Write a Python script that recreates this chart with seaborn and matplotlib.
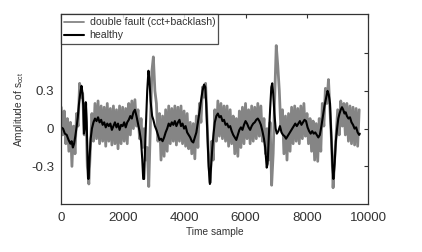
import numpy as np
import pandas as pd
import matplotlib
matplotlib.use("Agg")
import matplotlib.pyplot as plt
import seaborn as sns

# ---------------- data ----------------
# healthy signal: (sample, amplitude)
healthy_t = [0, 60, 120, 180, 240, 300, 340, 380, 420, 460, 500, 540, 580, 620, 660, 690, 720, 740, 770, 800,
             830, 860, 885, 920, 960, 1000, 1050, 1100, 1150, 1200, 1250, 1300, 1350, 1400, 1450, 1500, 1550, 1600,
             1650, 1700, 1750, 1800, 1850, 1900, 1950, 2000, 2050, 2100, 2150, 2200, 2250, 2300, 2350, 2400, 2450,
             2500, 2550, 2600, 2640, 2670, 2700, 2730, 2760, 2800, 2840, 2870, 2910, 2960, 3000, 3050, 3100, 3150,
             3200, 3250, 3300, 3350, 3400, 3450, 3500, 3550, 3600, 3650, 3700, 3750, 3800, 3850, 3900, 3950, 4000,
             4050, 4100, 4150, 4200, 4250, 4300, 4350, 4400, 4450, 4500, 4550, 4600, 4650, 4690, 4720, 4760, 4800,
             4840, 4880, 4920, 4960, 5000, 5050, 5100, 5150, 5200, 5250, 5300, 5350, 5400, 5450, 5500, 5550, 5600,
             5650, 5700, 5750, 5800, 5850, 5900, 5950, 6000, 6050, 6100, 6150, 6200, 6250, 6300, 6350, 6400, 6450,
             6500, 6550, 6600, 6640, 6690, 6720, 6760, 6800, 6840, 6870, 6900, 6940, 6980, 7020, 7070, 7120, 7170,
             7220, 7270, 7320, 7370, 7420, 7470, 7520, 7570, 7620, 7670, 7720, 7770, 7820, 7870, 7920, 7970, 8020,
             8070, 8120, 8170, 8220, 8270, 8320, 8370, 8420, 8470, 8520, 8570, 8620, 8670, 8710, 8750, 8790, 8830,
             8860, 8900, 8940, 8980, 9020, 9060, 9100, 9140, 9180, 9220, 9260, 9300, 9350, 9400, 9450, 9500, 9550,
             9600, 9650, 9700, 9720]
healthy_v = [0.01, 0.00, -0.04, -0.05, -0.09, -0.12, -0.10, -0.15, -0.12, -0.06, 0.01, 0.09, 0.20, 0.28, 0.34,
             0.29, 0.18, -0.04, 0.00, 0.21, 0.05, -0.25, -0.40, -0.25, -0.08, 0.00, 0.05, 0.08, 0.06, 0.09, 0.05,
             0.07, 0.03, 0.05, 0.01, 0.04, 0.02, 0.04, -0.01, 0.02, 0.05, 0.01, 0.04, -0.01, 0.03, 0.02, 0.05, 0.01,
             0.05, 0.07, 0.10, 0.08, 0.13, 0.15, 0.10, 0.04, -0.02, -0.10, -0.25, -0.40, -0.40, -0.15, 0.05, 0.30,
             0.46, 0.40, 0.22, 0.10, 0.07, 0.02, -0.01, -0.05, -0.09, -0.08, -0.10, -0.07, -0.03, 0.00, 0.04, 0.02,
             0.05, 0.03, 0.06, 0.02, 0.05, 0.07, 0.02, 0.04, 0.00, 0.02, -0.03, -0.05, -0.07, -0.10, -0.11, -0.07,
             -0.03, 0.05, 0.13, 0.22, 0.30, 0.35, 0.33, 0.20, -0.05, -0.30, -0.44, -0.30, -0.15, -0.04, 0.05, 0.10,
             0.12, 0.09, 0.10, 0.06, 0.07, 0.03, 0.04, 0.01, 0.02, -0.02, -0.05, -0.07, -0.09, -0.05, -0.01, 0.01,
             -0.01, 0.03, 0.06, 0.04, 0.01, -0.01, 0.02, 0.04, 0.05, 0.07, 0.08, 0.06, 0.03, -0.02, -0.08, -0.15,
             -0.31, -0.28, -0.05, 0.15, 0.33, 0.36, 0.28, 0.12, 0.00, -0.04, -0.02, 0.02, -0.03, -0.05, -0.06, -0.08,
             -0.06, -0.04, -0.02, 0.00, 0.02, 0.04, 0.02, 0.04, 0.06, 0.03, 0.05, 0.07, 0.06, 0.01, -0.02, -0.04,
             -0.02, -0.04, -0.03, -0.05, -0.07, -0.05, 0.02, 0.10, 0.18, 0.24, 0.30, 0.27, 0.20, -0.05, -0.30, -0.40,
             -0.28, -0.10, 0.00, 0.08, 0.12, 0.15, 0.17, 0.15, 0.12, 0.13, 0.10, 0.08, 0.09, 0.05, 0.03, 0.00, 0.01,
             -0.03, -0.05, -0.04]

# double fault signal sampled every 50 samples (alternating band edges)
fault_step = 50
fault_v = [0.17, -0.05, 0.14, -0.12, 0.08, -0.18, 0.05, -0.30, 0.02, -0.20,
           0.12, 0.02, 0.36, 0.25, 0.28, -0.05, 0.20, -0.30, -0.44, -0.15,
           0.12, -0.10, 0.20, -0.08, 0.22, -0.12, 0.18, -0.10, 0.17, -0.14,
           0.20, -0.10, 0.16, -0.13, 0.18, -0.12, 0.15, -0.16, 0.18, -0.12,
           0.17, -0.10, 0.16, -0.12, 0.20, -0.05, 0.22, 0.00, 0.23, 0.02,
           0.15, -0.08, 0.08, -0.15, 0.00, -0.25, -0.15, -0.46, 0.00, 0.45,
           0.57, 0.30, 0.20, -0.10, 0.12, -0.25, 0.10, -0.22, 0.15, -0.18,
           0.18, -0.12, 0.16, -0.10, 0.18, -0.13, 0.17, -0.10, 0.18, -0.12,
           0.14, -0.14, 0.12, -0.16, 0.05, -0.20, 0.04, -0.24, 0.10, -0.15,
           0.20, 0.05, 0.33, 0.25, 0.36, 0.05, -0.25, -0.43, -0.10, -0.25,
           0.15, -0.10, 0.22, -0.06, 0.20, -0.08, 0.18, -0.10, 0.18, -0.14,
           0.15, -0.12, 0.10, -0.20, 0.08, -0.22, 0.14, -0.15, 0.17, -0.12,
           0.20, -0.08, 0.15, -0.12, 0.18, -0.10, 0.17, -0.08, 0.20, -0.06,
           0.18, -0.10, 0.08, -0.20, 0.00, -0.25, 0.05, -0.45, -0.20, 0.25,
           0.66, 0.50, 0.30, 0.00, 0.15, -0.20, 0.10, -0.25, 0.12, -0.18,
           0.17, -0.12, 0.18, -0.10, 0.16, -0.12, 0.18, -0.08, 0.20, -0.06,
           0.12, -0.12, 0.08, -0.18, 0.06, -0.25, 0.04, -0.26, 0.08, -0.18,
           0.20, 0.02, 0.32, 0.20, 0.39, 0.15, -0.10, -0.47, -0.25, -0.05,
           0.15, -0.05, 0.22, 0.02, 0.20, -0.05, 0.20, -0.10, 0.18, -0.12,
           0.17, -0.13, 0.16, -0.14, 0.15]

x_ticks = [0, 2000, 4000, 6000, 8000, 10000]
x_ticklabels = ["0", "2000", "4000", "6000", "8000", "10000"]
y_ticks = [-0.3, 0.0, 0.3, 0.6]
y_ticklabels = ["-0.3", "0", "0.3", ""]

label_fault = "double fault (cct+backlash)"
label_healthy = "healthy"

# ---------------- plotting ----------------
sns.set_style("white")
plt.rcParams["font.family"] = ["Liberation Sans", "DejaVu Sans"]
plt.rcParams["mathtext.fontset"] = "custom"
plt.rcParams["mathtext.rm"] = "Liberation Sans"
plt.rcParams["mathtext.it"] = "Liberation Sans"

text_col = "#333333"

fault_df = pd.DataFrame({"t": np.arange(len(fault_v)) * fault_step, "v": fault_v})
healthy_df = pd.DataFrame({"t": healthy_t, "v": healthy_v})

fig = plt.figure(figsize=(4.22, 2.52), dpi=100)
ax = fig.add_axes([0.145, 0.19, 0.728, 0.754])

sns.lineplot(data=fault_df, x="t", y="v", ax=ax, color="#858585", linewidth=2.0,
             estimator=None, sort=False, label=label_fault)
sns.lineplot(data=healthy_df, x="t", y="v", ax=ax, color="black", linewidth=1.5,
             estimator=None, sort=False, label=label_healthy)

ax.set_xlim(0, 10000)
ax.set_ylim(-0.6, 0.91)
ax.set_xticks(x_ticks)
ax.set_xticklabels(x_ticklabels)
ax.set_yticks(y_ticks)
ax.set_yticklabels(y_ticklabels)
ax.tick_params(direction="in", length=3, width=0.8, top=True, right=True,
               labelsize=9.6, colors=text_col, pad=5)
ax.tick_params(axis="x", pad=6)

for sp in ax.spines.values():
    sp.set_color("#333333")
    sp.set_linewidth(0.9)

ax.set_xlabel("Time sample", fontsize=7.3, color=text_col, labelpad=2)
ax.set_ylabel(r"Amplitude of s$_{\mathregular{cct}}$", fontsize=7.3, color=text_col, labelpad=4)

leg = ax.legend(loc="upper left", bbox_to_anchor=(0, 1), borderaxespad=0, fontsize=7.6,
                frameon=True, fancybox=False, handlelength=1.9, handletextpad=0.5,
                borderpad=0.3, labelspacing=0.3)
leg.get_frame().set_edgecolor("#222222")
leg.get_frame().set_linewidth(0.9)
leg.get_lines()[0].set_linewidth(1.3)
for t in leg.get_texts():
    t.set_color(text_col)

fig.savefig("out.png", dpi=100)
